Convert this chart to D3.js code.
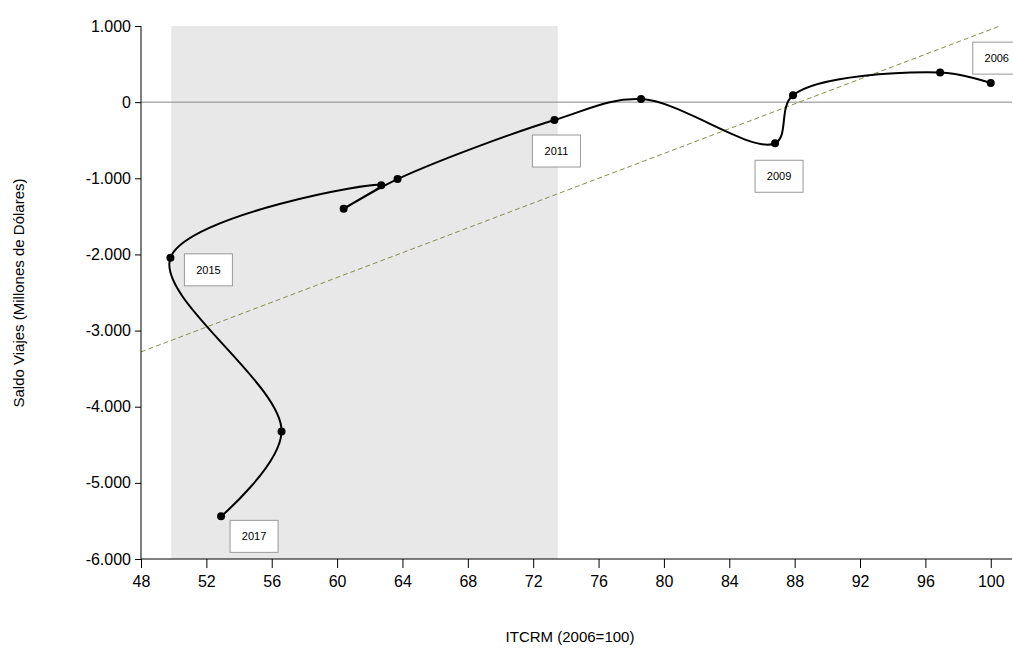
<!DOCTYPE html>
<html><head><meta charset="utf-8">
<script src="https://cdn.jsdelivr.net/npm/d3@7"></script>
<style>body{margin:0;background:#fff;font-family:"Liberation Sans",Arial,sans-serif}</style>
</head><body><svg id="c" width="1013" height="648"></svg>
<script>
const years = [2006, 2007, 2008, 2009, 2010, 2011, 2012, 2013, 2014, 2015, 2016, 2017];
const itcrm = [100, 96.9, 87.9, 86.8, 78.6, 73.3, 63.7, 60.4, 62.7, 49.8, 56.6, 52.9];
const saldo = [250, 390, 90, -540, 40, -235, -1010, -1400, -1090, -2045, -4325, -5440];
const shade = [49.85, 73.5];
const trend = [[48, -3280], [101.3, 1060]];
const xTicks = [48, 52, 56, 60, 64, 68, 72, 76, 80, 84, 88, 92, 96, 100];
const yTicks = [1000, 0, -1000, -2000, -3000, -4000, -5000, -6000];
const labelled = [2006, 2009, 2011, 2015, 2017];
const labelOffsets = {2006: [6, -25], 2009: [4, 33], 2011: [2, 31], 2015: [38, 12], 2017: [33, 20]};

const svg = d3.select('#c');
const x = d3.scaleLinear().domain([48, 101.3]).range([141, 1012]);
const y = d3.scaleLinear().domain([-6000, 1000]).range([559, 26]);
const fmt = d3.formatLocale({decimal: ',', thousands: '.', grouping: [3], minus: '-'}).format(',d');

svg.append('rect').attr('x', x(shade[0])).attr('y', y(1000))
    .attr('width', x(shade[1]) - x(shade[0])).attr('height', y(-6000) - y(1000)).attr('fill', '#e8e8e8');

svg.append('line').attr('x1', x(48)).attr('x2', x(101.3)).attr('y1', y(0)).attr('y2', y(0))
    .attr('stroke', '#888').attr('stroke-width', 1);

svg.append('defs').append('clipPath').attr('id', 'clip').append('rect')
    .attr('x', 141).attr('y', 26).attr('width', 871).attr('height', 533);
svg.append('line').attr('clip-path', 'url(#clip)')
    .attr('x1', x(trend[0][0])).attr('y1', y(trend[0][1]))
    .attr('x2', x(trend[1][0])).attr('y2', y(trend[1][1]))
    .attr('stroke', '#8a8a50').attr('stroke-dasharray', '5,3').attr('stroke-width', 1);

const pts = years.map((yr, i) => ({yr, x: itcrm[i], y: saldo[i]}));
svg.append('path').datum(pts)
    .attr('d', d3.line().x(d => x(d.x)).y(d => y(d.y)).curve(d3.curveCatmullRom.alpha(0.5)))
    .attr('fill', 'none').attr('stroke', '#000').attr('stroke-width', 2);
svg.selectAll('circle.p').data(pts).join('circle')
    .attr('cx', d => x(d.x)).attr('cy', d => y(d.y)).attr('r', 4).attr('fill', '#000');

const lab = svg.selectAll('g.lab').data(pts.filter(d => labelled.includes(d.yr))).join('g')
    .attr('transform', d => `translate(${x(d.x) + labelOffsets[d.yr][0]},${y(d.y) + labelOffsets[d.yr][1]})`);
lab.append('rect').attr('x', -24).attr('y', -16).attr('width', 48).attr('height', 32)
    .attr('fill', '#fff').attr('stroke', '#999');
lab.append('text').attr('text-anchor', 'middle').attr('dy', '0.35em').attr('font-size', 11).text(d => d.yr);

const xa = svg.append('g').attr('transform', 'translate(0,559)')
    .call(d3.axisBottom(x).tickValues(xTicks).tickSize(9).tickPadding(8).tickFormat(d3.format('d')));
const ya = svg.append('g').attr('transform', 'translate(141,0)')
    .call(d3.axisLeft(y).tickValues(yTicks).tickSize(6).tickPadding(4).tickFormat(fmt));
[xa, ya].forEach(a => {
    a.selectAll('text').attr('font-size', 16).attr('font-family', '"Liberation Sans",Arial,sans-serif').attr('fill', '#000');
    a.select('.domain').attr('stroke', '#000');
});
xa.select('.domain').attr('d', 'M141,0H1012');
ya.select('.domain').attr('d', 'M0,26V559');

svg.append('text').attr('x', 570).attr('y', 642).attr('text-anchor', 'middle').attr('font-size', 15).text('ITCRM (2006=100)');
svg.append('text').attr('transform', 'translate(24,293) rotate(-90)').attr('text-anchor', 'middle')
    .attr('font-size', 15).text('Saldo Viajes (Millones de Dólares)');
</script></body></html>
